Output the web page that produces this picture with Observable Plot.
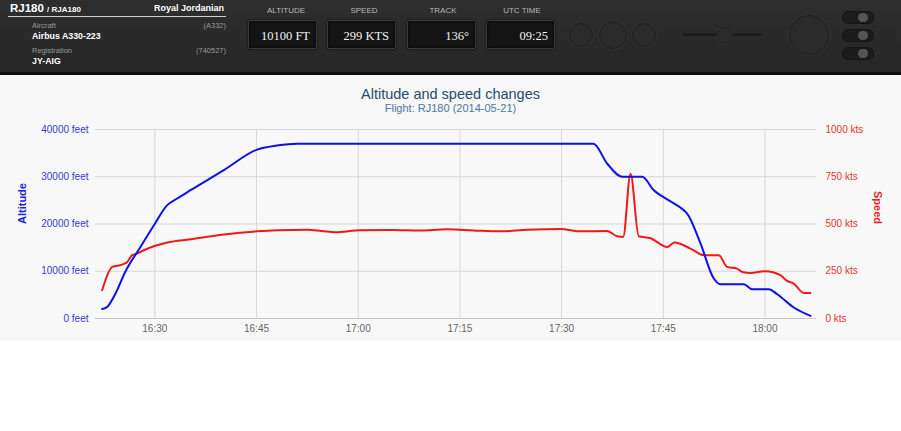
<!DOCTYPE html>
<html>
<head>
<meta charset="utf-8">
<script src="https://cdn.jsdelivr.net/npm/d3@7"></script>
<script src="https://cdn.jsdelivr.net/npm/@observablehq/plot@0.6"></script>
<style>
  html, body { margin: 0; padding: 0; background: #ffffff; }
  body { width: 901px; height: 431px; position: relative; overflow: hidden; font-family: "Liberation Sans", Arial, sans-serif; }
  #header { position: absolute; left: 0; top: 0; width: 901px; height: 72px; background: linear-gradient(#2e2e2e, #262626); border-bottom: 3px solid #111; }
  .t { position: absolute; white-space: nowrap; line-height: 1; }
  .box { position: absolute; top: 20px; height: 27px; width: 67px; background: #141414; border: 1px solid #3a3a3a; box-shadow: inset 0 0 3px #000, 0 0 2px #000; border-radius: 2px; }
  .box span { position: absolute; right: 6px; top: 8px; font-family: "Liberation Serif", "Times New Roman", serif; font-size: 12.5px; color: #f2f2f2; }
  .lab { position: absolute; top: 6px; font-size: 8px; color: #b8b8b8; width: 80px; text-align: center; }
  .circ { position: absolute; border-radius: 50%; background: #2b2b2b; border: 1px solid #1e1e1e; box-shadow: 0 0 3px #3c3c3c; }
  .tog { position: absolute; left: 842px; width: 30px; height: 11px; border-radius: 6px; background: #1c1c1c; border: 1px solid #151515; }
  .tog i { position: absolute; left: 15px; top: 1px; width: 10px; height: 9px; border-radius: 5px; background: #555; }
  #chartbg { position: absolute; left: 0; top: 75px; width: 901px; height: 266px; background: #f8f8f8; }
  #title { position: absolute; left: 0; width: 901px; top: 86px; text-align: center; font-size: 14.5px; color: #274b6d; }
  #subtitle { position: absolute; left: 0; width: 901px; top: 102px; text-align: center; font-size: 11px; color: #4d759e; }
  #plot { position: absolute; left: 0; top: 75px; }
</style>
</head>
<body>
<div id="header">
  <div class="t" style="left:10px;top:3px;font-size:11.5px;font-weight:bold;color:#fff;">RJ180 <span style="font-size:8px;">/ RJA180</span></div>
  <div class="t" style="left:154px;top:4px;font-size:9px;font-weight:bold;color:#fff;">Royal Jordanian</div>
  <div style="position:absolute;left:8px;top:16px;width:218px;height:1px;background:#d0d0d0;"></div>
  <div class="t" style="left:32px;top:22px;font-size:7.5px;color:#9a9a9a;">Aircraft</div>
  <div class="t" style="right:675px;top:22px;font-size:7.5px;color:#9a9a9a;">(A332)</div>
  <div class="t" style="left:32px;top:32px;font-size:8.8px;font-weight:bold;color:#fff;">Airbus A330-223</div>
  <div class="t" style="left:32px;top:47px;font-size:7.5px;color:#9a9a9a;">Registration</div>
  <div class="t" style="right:675px;top:47px;font-size:7.5px;color:#9a9a9a;">(740527)</div>
  <div class="t" style="left:32px;top:57px;font-size:8.8px;font-weight:bold;color:#fff;">JY-AIG</div>

  <div class="lab" style="left:246px;">ALTITUDE</div>
  <div class="lab" style="left:324px;">SPEED</div>
  <div class="lab" style="left:403px;">TRACK</div>
  <div class="lab" style="left:482px;">UTC TIME</div>
  <div class="box" style="left:248px;"><span>10100 FT</span></div>
  <div class="box" style="left:327px;"><span>299 KTS</span></div>
  <div class="box" style="left:407px;"><span>136°</span></div>
  <div class="box" style="left:486px;"><span>09:25</span></div>

  <div class="circ" style="left:569px;top:23px;width:22px;height:22px;"></div>
  <div class="circ" style="left:599px;top:21px;width:26px;height:26px;"></div>
  <div class="circ" style="left:632px;top:23px;width:22px;height:22px;"></div>
  <div style="position:absolute;left:683px;top:33px;width:79px;height:3px;border-radius:2px;background:#1c1c1c;"></div>
  <div class="circ" style="left:717px;top:27px;width:14px;height:14px;"></div>
  <div class="circ" style="left:789px;top:15px;width:38px;height:38px;"></div>
  <div class="tog" style="top:11px;"><i></i></div>
  <div class="tog" style="top:29px;"><i></i></div>
  <div class="tog" style="top:47px;"><i></i></div>
</div>
<div id="chartbg"></div>
<div id="title">Altitude and speed changes</div>
<div id="subtitle">Flight: RJ180 (2014-05-21)</div>
<div id="plot"></div>
<script>
// ---- data (UTC, 2014-05-21) ----
const altTimes = ["16:22:14","16:23:00","16:24:12","16:25:41","16:27:53","16:29:51","16:31:50","16:33:18","16:35:16","16:40:11","16:45:00","16:48:00","16:51:00","17:00:00","17:15:00","17:30:00","17:34:42","17:36:43","17:38:56","17:41:53","17:43:36","17:45:49","17:48:01","17:48:31","17:50:29","17:52:27","17:53:26","17:56:53","17:58:07","18:00:34","18:01:48","18:04:15","18:06:43"];
const altFeet = [2000,2500,5300,10000,15150,19700,24000,25400,27150,31400,35700,36600,37000,37000,37000,37000,37000,32800,30000,30000,27150,25000,22900,22200,15900,8460,7260,7260,6200,6200,5140,2330,550];

const spdTimes = ["16:22:14","16:23:43","16:25:11","16:25:56","16:26:40","16:27:24","16:28:23","16:31:50","16:35:16","16:40:11","16:45:06","16:48:03","16:52:29","16:54:56","16:56:39","17:00:20","17:05:00","17:09:00","17:13:08","17:17:00","17:21:00","17:24:56","17:29:50","17:32:47","17:36:43","17:38:12","17:39:05","17:40:10","17:41:23","17:43:07","17:45:34","17:46:39","17:49:00","17:50:58","17:53:11","17:54:25","17:55:54","17:56:38","17:57:52","18:00:04","18:02:17","18:03:16","18:04:15","18:05:43","18:06:43"];
const spdKts = [150,273,285,299,335,343,361,402,419,444,461,467,470,461,457,467,468,465,472,466,461,469,474,461,463,435,431,766,435,425,378,402,370,335,335,273,264,246,241,250,229,199,185,135,135];

const altTicks = [0,10000,20000,30000,40000];
const spdTicks = [0,250,500,750,1000];
const timeTicks = ["16:30","16:45","17:00","17:15","17:30","17:45","18:00"];
const xDomain = ["16:21:15","18:07:36"];

// ---- build ----
const day = "2014-05-21T";
const toDate = s => new Date(day + (s.length === 5 ? s + ":00" : s) + "Z");
const alt = altTimes.map((t, i) => ({time: toDate(t), value: altFeet[i]}));
const spd = spdTimes.map((t, i) => ({time: toDate(t), value: spdKts[i]}));
const ratio = altTicks[altTicks.length - 1] / spdTicks[spdTicks.length - 1];

const blue = "#0f0fe6";
const red = "#f01818";

const chart = Plot.plot({
  width: 901,
  height: 266,
  marginLeft: 95,
  marginRight: 85,
  marginTop: 54,
  marginBottom: 23,
  style: {background: "transparent", fontFamily: "'Liberation Sans', Arial, sans-serif", fontSize: "10px"},
  x: {type: "utc", domain: xDomain.map(toDate)},
  y: {domain: [0, 40000]},
  marks: [
    Plot.gridY(altTicks, {stroke: "#d8d8d8", strokeOpacity: 1, strokeWidth: 1}),
    Plot.gridX(timeTicks.map(toDate), {stroke: "#d8d8d8", strokeOpacity: 1, strokeWidth: 1}),
    Plot.ruleY([0], {stroke: "#c6c6c6"}),
    Plot.axisX(timeTicks.map(toDate), {tickFormat: d3.utcFormat("%H:%M"), tickSize: 0, tickPadding: 6, fill: "#666666", label: null, fontSize: 10}),
    Plot.axisY(altTicks, {anchor: "left", tickFormat: d => d + " feet", tickSize: 0, tickPadding: 7, fill: "#3838cc", label: null, fontSize: 10}),
    Plot.axisY(spdTicks.map(v => v * ratio), {anchor: "right", tickFormat: d => (d / ratio) + " kts", tickSize: 0, tickPadding: 9, fill: "#e03434", label: null, fontSize: 10}),
    Plot.text(["Altitude"], {frameAnchor: "left", dx: -73, rotate: -90, fill: "#2222dd", fontWeight: "bold", fontSize: 11}),
    Plot.text(["Speed"], {frameAnchor: "right", dx: 61, rotate: 90, fill: "#ee2222", fontWeight: "bold", fontSize: 11}),
    Plot.line(spd, {x: "time", y: d => d.value * ratio, stroke: red, strokeWidth: 2, curve: "monotone-x"}),
    Plot.line(alt, {x: "time", y: "value", stroke: blue, strokeWidth: 2, curve: "monotone-x"})
  ]
});
document.getElementById("plot").appendChild(chart);
</script>
</body>
</html>
